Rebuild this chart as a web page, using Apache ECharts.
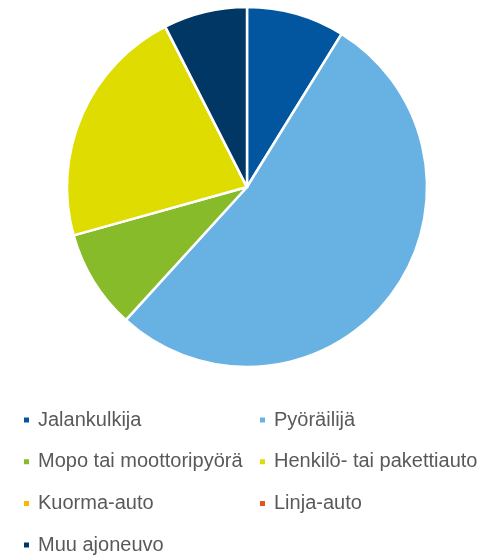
<!DOCTYPE html>
<html>
<head>
<meta charset="utf-8">
<script src="https://cdn.jsdelivr.net/npm/echarts@6/dist/echarts.min.js"></script>
<style>
  html, body { margin: 0; padding: 0; background: #fff; }
  #chart { width: 477px; height: 555px; }
</style>
</head>
<body>
<div id="chart"></div>
<script>
// osuudet (%) luettu kuvasta
const categories = ['Jalankulkija', 'Pyöräilijä', 'Mopo tai moottoripyörä', 'Henkilö- tai pakettiauto', 'Kuorma-auto', 'Linja-auto', 'Muu ajoneuvo']
const values = [8.8, 52.9, 8.9, 21.8, 0, 0, 7.5]
const colors = ['#0256A0', '#68B2E3', '#88BB2A', '#DEDC00', '#FFB600', '#E5541B', '#003764']

const leftCol = [categories[0], categories[2], categories[4], categories[6]]
const rightCol = [categories[1], categories[3], categories[5]]

const legendBase = {
  orient: 'vertical',
  top: 409,
  height: 160,
  padding: 0,
  itemWidth: 7,
  itemHeight: 7,
  itemGap: 19.7,
  icon: 'rect',
  textStyle: {
    color: '#595959',
    fontSize: 20,
    lineHeight: 22,
    fontFamily: 'Liberation Sans',
    padding: [0, 0, 0, 3]
  }
}

const myChart = echarts.init(document.getElementById('chart'))
const option = {
  animation: false,
  color: colors,
  legend: [
    Object.assign({}, legendBase, { left: 22, data: leftCol }),
    Object.assign({}, legendBase, { left: 258, data: rightCol })
  ],
  series: [{
    type: 'pie',
    center: [247, 187],
    radius: 180,
    startAngle: 90,
    clockwise: true,
    label: { show: false },
    labelLine: { show: false },
    emphasis: { disabled: true },
    itemStyle: { borderColor: '#fff', borderWidth: 2.5 },
    data: categories.map((name, i) => ({ name: name, value: values[i] }))
  }]
}
myChart.setOption(option)
</script>
</body>
</html>
